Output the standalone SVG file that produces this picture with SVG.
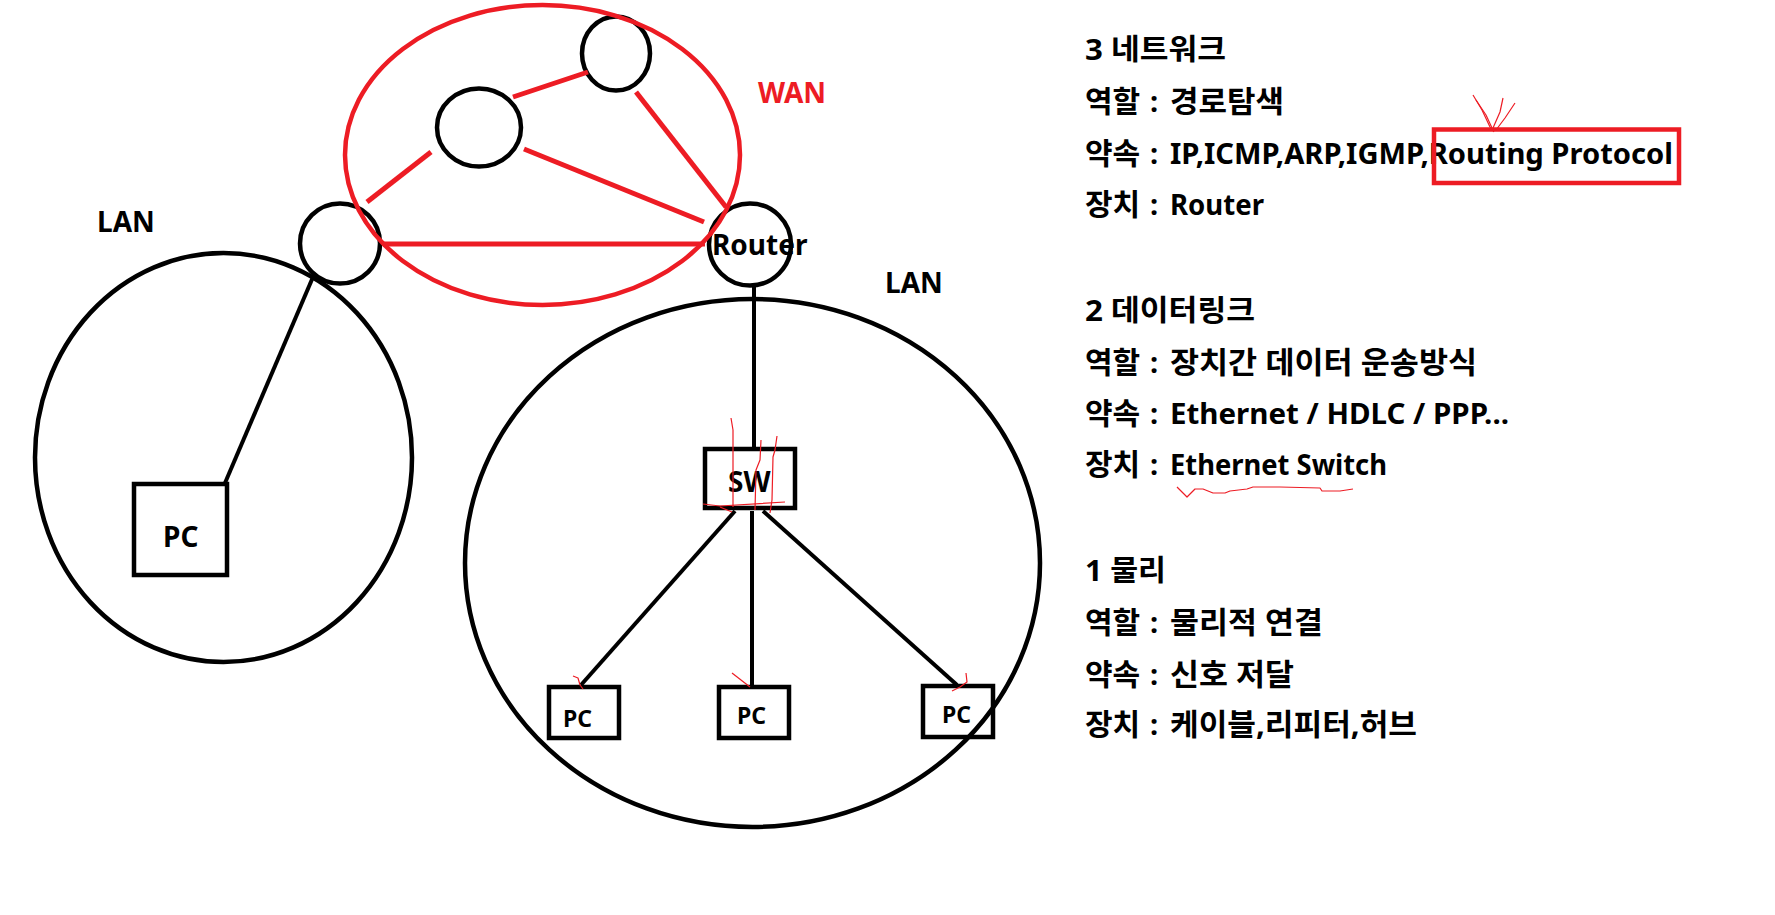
<svg xmlns="http://www.w3.org/2000/svg" width="1775" height="915" viewBox="0 0 1775 915">
<style>
.bk{fill:none;stroke:#000;stroke-width:4.5}
.rd{fill:none;stroke:#ed1c24;stroke-width:4.5}
.ln{stroke:#000;stroke-width:4;fill:none}
.rl{stroke:#ed1c24;stroke-width:5;fill:none;stroke-linecap:butt}
.sc{stroke:#ed1c24;stroke-width:1.2;fill:none;stroke-linejoin:round}
text{font-family:"Noto Sans","Noto Sans CJK KR",sans-serif;font-weight:bold;fill:#000}
.t{font-size:28px}
.k{font-size:29px}
.h{font-size:30px}
.s{font-size:23px}
.w{fill:#ed1c24}
</style>
<rect width="1775" height="915" fill="#fff"/>

<g id="lan-left">
  <ellipse class="bk" cx="223.5" cy="457.5" rx="188.5" ry="204.5"/>
  <text class="t" x="97" y="232">LAN</text>
</g>
<g id="lan-right">
  <ellipse class="bk" cx="752.5" cy="563" rx="287.5" ry="264"/>
  <text class="t" x="885" y="293">LAN</text>
</g>

<g id="connectors">
  <line class="ln" x1="313" y1="277" x2="225" y2="483"/>
  <line class="ln" x1="754" y1="287" x2="754" y2="449"/>
  <line class="ln" x1="735" y1="511" x2="581" y2="685"/>
  <line class="ln" x1="752" y1="511" x2="752" y2="685"/>
  <line class="ln" x1="763" y1="511" x2="957" y2="685"/>
</g>

<g id="node-left-router">
  <ellipse class="bk" cx="340" cy="243.5" rx="40" ry="40"/>
</g>
<g id="node-wan-mid">
  <ellipse class="bk" cx="479" cy="127.5" rx="42" ry="39"/>
</g>
<g id="node-wan-top">
  <ellipse class="bk" cx="616" cy="53.5" rx="34" ry="37"/>
</g>
<g id="node-router">
  <ellipse class="bk" cx="750" cy="244.5" rx="41" ry="41"/>
  <text class="t" x="712" y="255">Router</text>
</g>

<g id="wan">
  <ellipse class="rd" cx="542.5" cy="155" rx="197.5" ry="150"/>
  <text class="t w" x="758" y="103">WAN</text>
</g>
<g id="wan-links">
  <line class="rl" x1="367" y1="202" x2="431" y2="152"/>
  <line class="rl" x1="513" y1="97" x2="588" y2="72"/>
  <line class="rl" x1="524" y1="149" x2="704" y2="222"/>
  <line class="rl" x1="636" y1="92" x2="726" y2="207"/>
  <line class="rl" x1="383" y1="244" x2="705" y2="244"/>
</g>

<g id="node-pc-left">
  <rect class="bk" x="134" y="484" width="93" height="91"/>
  <text class="t" x="163" y="547">PC</text>
</g>
<g id="node-sw">
  <rect class="bk" x="705" y="449" width="90" height="59"/>
  <text class="t" x="728" y="492">SW</text>
</g>
<g id="node-pc1">
  <rect class="bk" x="549" y="687" width="70" height="51"/>
  <text class="s" x="563" y="727">PC</text>
</g>
<g id="node-pc2">
  <rect class="bk" x="719" y="687" width="70" height="51"/>
  <text class="s" x="737" y="724">PC</text>
</g>
<g id="node-pc3">
  <rect class="bk" x="923" y="686" width="70" height="51"/>
  <text class="s" x="942" y="723">PC</text>
</g>

<g id="layer3">
  <text class="k" x="1085" y="60" textLength="141" lengthAdjust="spacingAndGlyphs">3 네트워크</text>
  <text class="h" x="1085" y="112">역할</text><text class="k" x="1150" y="112">:</text>
  <text class="h" x="1170" y="112" textLength="114" lengthAdjust="spacingAndGlyphs">경로탐색</text>
  <text class="h" x="1085" y="164">약속</text><text class="k" x="1150" y="164">:</text>
  <text class="k" x="1170" y="164" textLength="503" lengthAdjust="spacingAndGlyphs">IP,ICMP,ARP,IGMP,Routing Protocol</text>
  <text class="h" x="1085" y="215">장치</text><text class="k" x="1150" y="215">:</text>
  <text class="k" x="1170" y="215" textLength="94" lengthAdjust="spacingAndGlyphs">Router</text>
  <rect class="rd" x="1434" y="129.5" width="245" height="53.5"/>
</g>
<g id="layer2">
  <text class="k" x="1085" y="321" textLength="170" lengthAdjust="spacingAndGlyphs">2 데이터링크</text>
  <text class="h" x="1085" y="373">역할</text><text class="k" x="1150" y="373">:</text>
  <text class="h" x="1170" y="373" textLength="307" lengthAdjust="spacingAndGlyphs">장치간 데이터 운송방식</text>
  <text class="h" x="1085" y="424">약속</text><text class="k" x="1150" y="424">:</text>
  <text class="k" x="1170" y="424" textLength="339" lengthAdjust="spacingAndGlyphs">Ethernet / HDLC / PPP...</text>
  <text class="h" x="1085" y="475">장치</text><text class="k" x="1150" y="475">:</text>
  <text class="k" x="1170" y="475" textLength="217" lengthAdjust="spacingAndGlyphs">Ethernet Switch</text>
</g>
<g id="layer1">
  <text class="k" x="1085" y="581" textLength="81" lengthAdjust="spacingAndGlyphs">1 물리</text>
  <text class="h" x="1085" y="633">역할</text><text class="k" x="1150" y="633">:</text>
  <text class="h" x="1170" y="633" textLength="153" lengthAdjust="spacingAndGlyphs">물리적 연결</text>
  <text class="h" x="1085" y="685">약속</text><text class="k" x="1150" y="685">:</text>
  <text class="h" x="1170" y="685" textLength="124" lengthAdjust="spacingAndGlyphs">신호 저달</text>
  <text class="h" x="1085" y="735">장치</text><text class="k" x="1150" y="735">:</text>
  <text class="h" x="1170" y="735" textLength="247" lengthAdjust="spacingAndGlyphs">케이블,리피터,허브</text>
</g>

<g id="annotations">
  <polyline class="sc" points="1473,95 1482,110 1490,127 1494,132"/>
  <polyline class="sc" points="1476,100 1486,115 1492,128"/>
  <polyline class="sc" points="1503,98 1500,112 1493,128"/>
  <polyline class="sc" points="1515,103 1505,118 1496,130"/>
  <polyline class="sc" points="1177,487 1187,497 1195,489 1203,489 1213,493 1225,493 1230,491 1247,489 1253,487 1280,487 1320,488 1322,491 1340,491 1353,489"/>
  <polyline class="sc" points="731,418 733,430 733,507"/>
  <polyline class="sc" points="761,440 760,460 756,470 755,510"/>
  <polyline class="sc" points="777,436 775,450 773,457 772,500 770,513"/>
  <polyline class="sc" points="703,504 720,506 785,502"/>
  <polyline class="sc" points="720,507 732,512"/>
  <polyline class="sc" points="573,676 578,678 580,685 583,689"/>
  <polyline class="sc" points="732,673 750,687"/>
  <polyline class="sc" points="966,673 967,682 960,687 952,691"/>
</g>
</svg>
